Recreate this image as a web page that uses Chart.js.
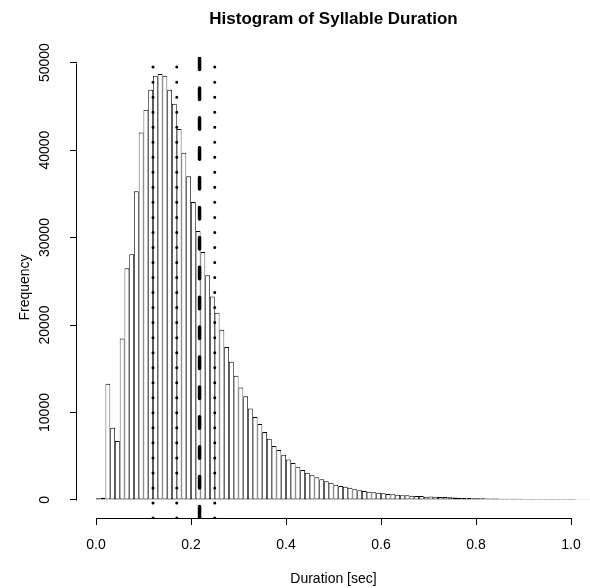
<!DOCTYPE html>
<html>
<head>
<meta charset="utf-8">
<script src="https://cdn.jsdelivr.net/npm/chart.js@4.4.1/dist/chart.umd.min.js"></script>
<style>
  html, body { margin: 0; padding: 0; background: #ffffff; }
  #wrap { width: 590px; height: 588px; }
</style>
</head>
<body>
<div id="wrap"><canvas id="c" width="590" height="588"></canvas></div>
<script>
// ---- data ----
const binStarts = [
  0.00,0.01,0.02,0.03,0.04,0.05,0.06,0.07,0.08,0.09,
  0.10,0.11,0.12,0.13,0.14,0.15,0.16,0.17,0.18,0.19,
  0.20,0.21,0.22,0.23,0.24,0.25,0.26,0.27,0.28,0.29,
  0.30,0.31,0.32,0.33,0.34,0.35,0.36,0.37,0.38,0.39,
  0.40,0.41,0.42,0.43,0.44,0.45,0.46,0.47,0.48,0.49,
  0.50,0.51,0.52,0.53,0.54,0.55,0.56,0.57,0.58,0.59,
  0.60,0.61,0.62,0.63,0.64,0.65,0.66,0.67,0.68,0.69,
  0.70,0.71,0.72,0.73,0.74,0.75,0.76,0.77,0.78,0.79,
  0.80,0.81,0.82,0.83,0.84,0.85,0.86,0.87,0.88,0.89,
  0.90,0.91,0.92,0.93,0.94,0.95,0.96,0.97,0.98,0.99,
  1.00,1.01,1.02,1.03
];
const frequencies = [
  200, 250, 13300, 8250, 6750, 18450, 26500, 28080, 35300, 42000,
  44600, 46900, 48500, 48700, 48500, 46900, 45300, 42400, 39700, 37000,
  34050, 30750, 28350, 25700, 23250, 21400, 19450, 17500, 15800, 14200,
  12850, 11870, 10470, 9500, 8680, 7760, 7000, 6160, 5700, 5170,
  4640, 4220, 3800, 3420, 3120, 2820, 2590, 2360, 2130, 1980,
  1750, 1600, 1520, 1400, 1220, 1100, 1030, 950, 880, 830,
  760, 690, 650, 600, 530, 530, 490, 460, 460, 380,
  400, 380, 350, 330, 300, 280, 260, 240, 230, 210,
  200, 185, 175, 165, 155, 150, 145, 140, 135, 130,
  125, 120, 118, 115, 112, 110, 108, 105, 102, 100,
  98, 96, 94, 92
];
const binWidth = 0.01;
const refLineValues = [0.12, 0.17, 0.218, 0.25];
const refLineTypes  = ['dotted', 'dotted', 'dashed', 'dotted'];
const xTickValues = [0.0, 0.2, 0.4, 0.6, 0.8, 1.0];
const yTickValues = [0, 10000, 20000, 30000, 40000, 50000];
const titleText = 'Histogram of Syllable Duration';
const xTitle = 'Duration [sec]';
const yTitle = 'Frequency';

// ---- chart ----
const FONT = "'Liberation Sans', Arial, Helvetica, sans-serif";
const X_MIN = -0.04, X_MAX = 1.04;
const Y_MIN = -2060, Y_MAX = 50640;

const barData = binStarts.map((b, i) => ({ x: b + binWidth / 2, y: frequencies[i] }));

const lineSets = refLineValues.map((v, i) => {
  const dotted = refLineTypes[i] === 'dotted';
  return {
    type: 'line',
    data: [{ x: v, y: Y_MIN }, { x: v, y: Y_MAX }],
    borderColor: '#000000',
    borderWidth: dotted ? 3 : 3.5,
    borderDash: dotted ? [0, 15.03] : [11.5, 18.4],
    borderCapStyle: 'round',
    pointRadius: 0,
    fill: false,
    order: 1
  };
});

const axisLines = {
  id: 'axisLines',
  afterDraw(chart) {
    const { ctx, scales, chartArea } = chart;
    const xs = scales.x, ys = scales.y;
    ctx.save();
    ctx.strokeStyle = '#000000';
    ctx.lineWidth = 1;
    ctx.beginPath();
    const ax = Math.round(chartArea.left) - 0.5;
    ctx.moveTo(ax, Math.round(ys.getPixelForValue(yTickValues[0])) + 0.5);
    ctx.lineTo(ax, Math.round(ys.getPixelForValue(yTickValues[yTickValues.length - 1])) + 0.5);
    const ay = Math.round(chartArea.bottom) + 0.5;
    ctx.moveTo(Math.round(xs.getPixelForValue(xTickValues[0])) + 0.5, ay);
    ctx.lineTo(Math.round(xs.getPixelForValue(xTickValues[xTickValues.length - 1])) + 0.5, ay);
    ctx.stroke();
    ctx.restore();
  }
};

new Chart(document.getElementById('c'), {
  type: 'bar',
  data: {
    datasets: [
      {
        type: 'bar',
        data: barData,
        backgroundColor: '#ffffff',
        borderColor: '#000000',
        borderWidth: { top: 1, bottom: 1, left: 0.8, right: 0.8 },
        borderSkipped: false,
        inflateAmount: 0,
        barPercentage: 1,
        categoryPercentage: 1,
        order: 2
      },
      ...lineSets
    ]
  },
  options: {
    responsive: false,
    devicePixelRatio: 1,
    animation: false,
    events: [],
    layout: { padding: { left: 0, right: 0, top: 0, bottom: 0 } },
    plugins: {
      legend: { display: false },
      tooltip: { enabled: false },
      title: {
        display: true,
        text: titleText,
        fullSize: false,
        color: '#000000',
        font: { family: FONT, size: 17, weight: 'bold', lineHeight: 1.2 },
        padding: { top: 9, bottom: 27.6 }
      }
    },
    scales: {
      x: {
        type: 'linear',
        offset: false,
        min: X_MIN,
        max: X_MAX,
        afterBuildTicks: s => { s.ticks = xTickValues.map(v => ({ value: v })); },
        afterFit: s => { s.height = 70; s.paddingLeft = 0; s.paddingRight = 0; },
        ticks: {
          autoSkip: false,
          maxRotation: 0,
          color: '#000000',
          padding: 12,
          font: { family: FONT, size: 14 },
          callback: v => Number(v).toFixed(1)
        },
        grid: {
          display: true,
          offset: false,
          drawOnChartArea: false,
          drawTicks: true,
          tickLength: 7,
          tickColor: '#000000',
          tickWidth: 1
        },
        border: { display: false },
        title: {
          display: true,
          text: xTitle,
          color: '#000000',
          font: { family: FONT, size: 14 },
          padding: { top: 0, bottom: 0 }
        }
      },
      y: {
        type: 'linear',
        min: Y_MIN,
        max: Y_MAX,
        afterBuildTicks: s => { s.ticks = yTickValues.map(v => ({ value: v })); },
        afterFit: s => { s.width = 77; s.paddingTop = 0; s.paddingBottom = 0; },
        ticks: {
          autoSkip: false,
          minRotation: 90,
          maxRotation: 90,
          crossAlign: 'center',
          color: '#000000',
          padding: 5,
          font: { family: FONT, size: 14 },
          callback: v => String(v)
        },
        grid: {
          display: true,
          drawOnChartArea: false,
          drawTicks: true,
          tickLength: 7,
          tickColor: '#000000',
          tickWidth: 1
        },
        border: { display: false },
        title: {
          display: true,
          text: yTitle,
          color: '#000000',
          font: { family: FONT, size: 14 },
          padding: { top: 16.6, bottom: 0 }
        }
      }
    }
  },
  plugins: [axisLines]
});
</script>
</body>
</html>
